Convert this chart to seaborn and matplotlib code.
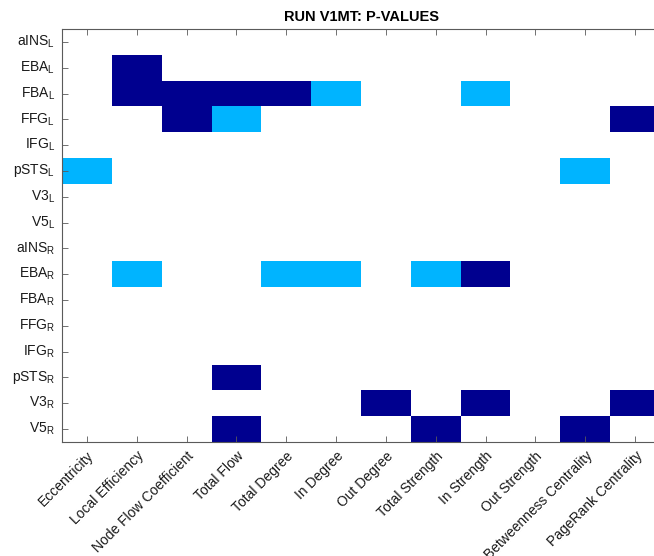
import numpy as np
import pandas as pd
import matplotlib
matplotlib.use("Agg")
import matplotlib.pyplot as plt
from matplotlib.colors import ListedColormap
import seaborn as sns

plt.rcParams["font.family"] = ["Liberation Sans", "DejaVu Sans"]
plt.rcParams["mathtext.fontset"] = "custom"
plt.rcParams["mathtext.rm"] = "Liberation Sans"

# Graph measures (columns)
measures = ["Eccentricity", "Local Efficiency", "Node Flow Coefficient", "Total Flow",
            "Total Degree", "In Degree", "Out Degree", "Total Strength", "In Strength",
            "Out Strength", "Betweenness Centrality", "PageRank Centrality"]

# Regions of interest (rows) and hemisphere
regions = ["aINS", "EBA", "FBA", "FFG", "IFG", "pSTS", "V3", "V5"]
hemispheres = ["L", "R"]

# Significance level per region/measure: 0 = n.s., 1 = p < .05, 2 = p < .01
sig_L = [
    [0, 0, 0, 0, 0, 0, 0, 0, 0, 0, 0, 0],  # aINS
    [0, 2, 0, 0, 0, 0, 0, 0, 0, 0, 0, 0],  # EBA
    [0, 2, 2, 2, 2, 1, 0, 0, 1, 0, 0, 0],  # FBA
    [0, 0, 2, 1, 0, 0, 0, 0, 0, 0, 0, 2],  # FFG
    [0, 0, 0, 0, 0, 0, 0, 0, 0, 0, 0, 0],  # IFG
    [1, 0, 0, 0, 0, 0, 0, 0, 0, 0, 1, 0],  # pSTS
    [0, 0, 0, 0, 0, 0, 0, 0, 0, 0, 0, 0],  # V3
    [0, 0, 0, 0, 0, 0, 0, 0, 0, 0, 0, 0],  # V5
]
sig_R = [
    [0, 0, 0, 0, 0, 0, 0, 0, 0, 0, 0, 0],  # aINS
    [0, 1, 0, 0, 1, 1, 0, 1, 2, 0, 0, 0],  # EBA
    [0, 0, 0, 0, 0, 0, 0, 0, 0, 0, 0, 0],  # FBA
    [0, 0, 0, 0, 0, 0, 0, 0, 0, 0, 0, 0],  # FFG
    [0, 0, 0, 0, 0, 0, 0, 0, 0, 0, 0, 0],  # IFG
    [0, 0, 0, 2, 0, 0, 0, 0, 0, 0, 0, 0],  # pSTS
    [0, 0, 0, 0, 0, 0, 2, 0, 2, 0, 0, 2],  # V3
    [0, 0, 0, 2, 0, 0, 0, 2, 0, 0, 2, 0],  # V5
]

row_labels = [f"{r}$_\\mathrm{{{h}}}$" for h in hemispheres for r in regions]
df = pd.DataFrame(np.array(sig_L + sig_R), index=row_labels, columns=measures)

cmap = ListedColormap(["#FFFFFF", "#00B4FF", "#00008F"])

fig = plt.figure(figsize=(6.54, 5.56), dpi=100)
W, H = 654, 556
ax = fig.add_axes([62 / W, 1 - 442 / H, (660 - 62) / W, (442 - 29) / H])

sns.heatmap(df, cmap=cmap, vmin=-0.5, vmax=2.5, cbar=False, ax=ax,
            linewidths=0, square=False)

for s in ax.spines.values():
    s.set_visible(True)
    s.set_color("#5a5a5a")
    s.set_linewidth(0.8)

ax.tick_params(axis="both", direction="in", length=4, width=0.6, color="#5a5a5a",
               labelsize=10, labelcolor="#1a1a1a")
ax.tick_params(axis="x", top=True, bottom=True, pad=5)
ax.tick_params(axis="y", left=True, right=True, pad=5)
ax.set_xticklabels(measures, rotation=45, ha="right", rotation_mode="anchor")
ax.set_yticklabels(row_labels, rotation=0)
ax.set_xlabel("")
ax.set_ylabel("")
ax.set_title("RUN V1MT: P-VALUES", fontsize=10.5, fontweight="bold", pad=6)

fig.savefig("out.png", dpi=100)
